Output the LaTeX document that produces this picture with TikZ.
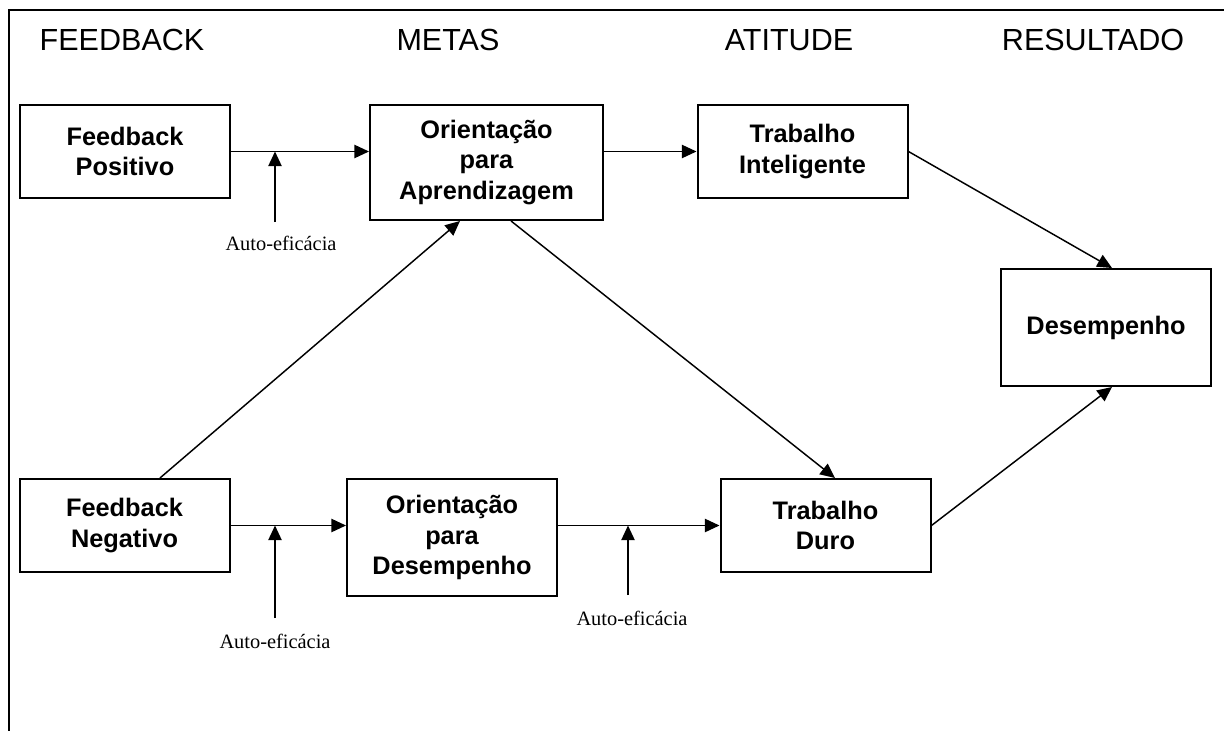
\documentclass[tikz,border=0pt]{standalone}
\usepackage{fontspec}
\setmainfont{Liberation Sans}
\newfontfamily\timesfont{Liberation Serif}
\usetikzlibrary{arrows.meta}

\begin{document}
\begin{tikzpicture}[x=0.75pt,y=-0.75pt,
  box/.style={draw, line width=1.5pt, align=center,
    font=\fontsize{19pt}{23pt}\selectfont\bfseries,
    minimum width=157.5pt, minimum height=69.75pt, inner sep=0pt},
  tallbox/.style={box, minimum height=87.75pt},
  head/.style={font=\fontsize{22.9pt}{27pt}\selectfont, anchor=base},
  note/.style={font=\timesfont\fontsize{15.3pt}{18pt}\selectfont},
  arr/.style={line width=1.1pt, -{Triangle[length=11pt,width=10pt]}},
  frame/.style={line width=1.5pt}]

\useasboundingbox (0,0) rectangle (1224,731);

% outer frame (left and top edges)
\draw[frame] (9,731) -- (9,10) -- (1224,10);

% column headings
\node[head] (h1) at (122,51) {FEEDBACK};
\node[head] (h2) at (448,51) {METAS};
\node[head] (h3) at (789,51) {ATITUDE};
\node[head] (h4) at (1093,51) {RESULTADO};

% boxes
\node[box] (fp) at (125,151.5) {Feedback\\Positivo};
\node[box, minimum width=174.75pt, minimum height=86.25pt] (oa) at (486.5,162.5) {Orientação\\para\\Aprendizagem};
\node[box] (ti) at (802.5,151.5) {Trabalho\\Inteligente};
\node[tallbox] (des) at (1106,327.5) {Desempenho};
\node[box] (fn) at (124.5,525.5) {Feedback\\Negativo};
\node[tallbox] (od) at (452,537.5) {Orientação\\para\\Desempenho};
\node[box] (td) at (825.5,525.5) {Trabalho\\Duro};

% moderator labels
\node[note] (ae1) at (281,243) {Auto-eficácia};
\node[note] (ae2) at (275,641) {Auto-eficácia};
\node[note] (ae3) at (632,618) {Auto-eficácia};

\coordinate (s1) at (275,222);
\coordinate (s2) at (275,618);
\coordinate (s3) at (628,595);

% moderator arrows
\draw[arr] (s1) -- (s1 |- fp.east);
\draw[arr] (s2) -- (s2 |- fn.east);
\draw[arr] (s3) -- (s3 |- td.west);

% main paths
\draw[arr] (fp.east) -- (fp.east -| oa.west);
\draw[arr] (oa.east |- ti.west) -- (ti.west);
\draw[arr] (fn.east) -- (fn.east -| od.west);
\draw[arr] (od.east |- td.west) -- (td.west);
\draw[arr] ([xshift=26.6pt]fn.north) -- ([xshift=-19.9pt]oa.south);
\draw[arr] ([xshift=18.4pt]oa.south) -- ([xshift=7.1pt]td.north);
\draw[arr] (ti.east) -- ([xshift=4.5pt]des.north);
\draw[arr] (td.east) -- ([xshift=4.5pt]des.south);

\end{tikzpicture}
\end{document}
